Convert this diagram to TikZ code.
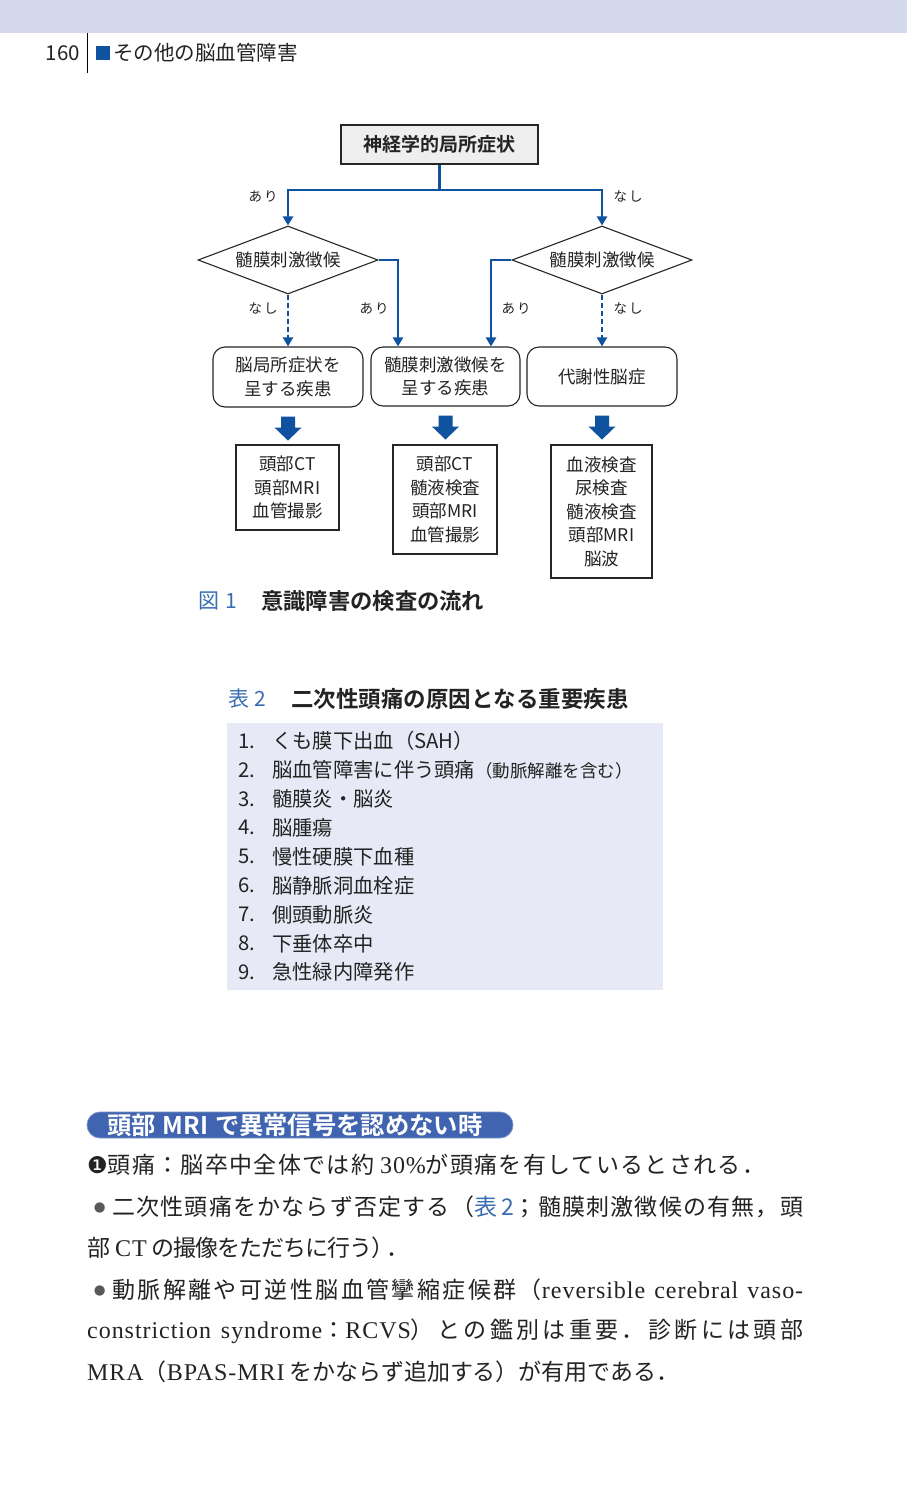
\documentclass[tikz,border=0pt]{standalone}
\usepackage{fontspec}
\setmainfont{Noto Sans CJK JP}[BoldFont={Noto Sans CJK JP Bold}]
\newfontfamily\bodyjp{Noto Sans CJK JP}
\newfontfamily\pilljp{Noto Sans CJK JP Bold}[LetterSpace=3]
\newfontfamily\lat{Liberation Serif}[LetterSpace=4]
\newfontfamily\dv{DejaVu Sans}
\usetikzlibrary{arrows.meta,shapes.geometric,calc}
\definecolor{band}{RGB}{213,217,238}
\definecolor{lnblue}{RGB}{14,82,160}
\definecolor{capblue}{RGB}{58,108,178}
\definecolor{tblbg}{RGB}{231,234,246}
\definecolor{pillc}{RGB}{64,100,175}
\definecolor{boxgray}{RGB}{238,238,238}
\definecolor{txt}{RGB}{35,35,35}
\newXeTeXintercharclass\jpclass
\makeatletter
\def\setjprange#1#2{\count@=#1\relax
  \loop\XeTeXcharclass\count@=\jpclass\relax
  \ifnum\count@<#2\relax\advance\count@ by 1\relax\repeat}
\setjprange{"3001}{"30FF}
\setjprange{"4E00}{"9FFF}
\setjprange{"FF01}{"FFEF}
\makeatother
\XeTeXinterchartoks\jpclass\jpclass={\hskip0pt plus 4pt minus 2pt}
\XeTeXinterchartoks 0 \jpclass={\hskip0pt plus 4pt minus 2pt}
\XeTeXinterchartoks\jpclass 0 ={\hskip0pt plus 4pt minus 2pt}
\XeTeXinterchartokenstate=1
\newcommand\bulmark{\makebox[25pt][c]{\raisebox{4.5pt}{\fontsize{13.5}{13}\selectfont\dv\color{black!65}●}}}
\newcommand\jline[2]{\makebox[#1][s]{#2}}
\newcommand\la[1]{{\lat\fontsize{24}{24}\selectfont #1}}
\begin{document}
\begin{tikzpicture}[x=1pt,y=-1pt,
  fbox/.style={draw=black!85, line width=1.1pt, align=center, inner sep=0pt, text=txt, font=\fontsize{17.5}{23.5}\selectfont},
  rbox/.style={fbox, rounded corners=12pt},
  dia/.style={diamond, draw=black!85, line width=1.1pt, aspect=2.65, minimum width=180pt, minimum height=68pt, inner sep=0pt, text=txt, font=\fontsize{17.5}{18}\selectfont},
  blc/.style={draw=lnblue, line width=2.4pt},
  arr/.style={-{Triangle[width=10pt,length=9pt]}},
  dsh/.style={draw=lnblue, line width=2pt, dash pattern=on 5pt off 3pt},
  lbl/.style={font=\fontsize{13.5}{14}\selectfont, inner sep=0pt, text=txt},
  item/.style={anchor=west, inner sep=0pt, text=txt, font=\fontsize{20.3}{21}\selectfont},
  body/.style={anchor=west, inner sep=0pt, text=txt, font=\bodyjp\fontsize{23}{24}\selectfont},
  blk/.style={fill=lnblue}
]
\useasboundingbox (0,0) rectangle (907,1500);
\fill[white] (0,0) rectangle (907,1500);
% header
\fill[band] (0,0) rectangle (907,33);
\node[anchor=east, inner sep=0pt, font=\fontsize{20.5}{21}\selectfont, text=txt] (pg) at (80,53) {160};
\draw[black, line width=1pt] (87,33) -- (87,73);
\fill[lnblue] (96,46) rectangle (110,60);
\node[anchor=west, inner sep=0pt, font=\fontsize{20.5}{21}\selectfont, text=txt] (ht) at (113,53) {その他の脳血管障害};

% flowchart
\node[fbox, fill=boxgray, minimum width=197pt, minimum height=39pt, font=\fontsize{19}{20}\selectfont\bfseries] (top) at (439.5,144.5) {神経学的局所症状};
\node[dia] (d1) at (288,260) {髄膜刺激徴候};
\node[dia] (d2) at (602,260) {髄膜刺激徴候};
\node[rbox, minimum width=150pt, minimum height=60pt] (b1) at (288,377) {脳局所症状を\\呈する疾患};
\node[rbox, minimum width=149pt, minimum height=59pt] (b2) at (445.5,376.5) {髄膜刺激徴候を\\呈する疾患};
\node[rbox, minimum width=150pt, minimum height=59pt] (b3) at (602,376.5) {代謝性脳症};
\node[fbox, minimum width=103pt, minimum height=85pt] (t1) at (287.5,487.5) {頭部CT\\頭部MRI\\血管撮影};
\node[fbox, minimum width=104pt, minimum height=109pt] (t2) at (445,499.5) {頭部CT\\髄液検査\\頭部MRI\\血管撮影};
\node[fbox, minimum width=101pt, minimum height=133pt] (t3) at (601.5,511.5) {血液検査\\尿検査\\髄液検査\\頭部MRI\\脳波};

\coordinate (j) at (439.5,190);
\draw[blc] (top.south) -- (j);
\draw[blc, arr] (j) -| (d1.north);
\draw[blc, arr] (j) -| (d2.north);
\draw[blc, arr] (d1.east) -| ($(b2.north)+(-47.5,0)$);
\draw[blc, arr] (d2.west) -| ($(b2.north)+(45.5,0)$);
\draw[dsh, arr] (d1.south) -- (b1.north);
\draw[dsh, arr] (d2.south) -- (b3.north);

\node[lbl] (l1) at (263,196) {あ\hspace{2pt}り};
\node[lbl] (l2) at (628,196) {な\hspace{2pt}し};
\node[lbl] (l3) at (263,308) {な\hspace{2pt}し};
\node[lbl] (l4) at (374,308) {あ\hspace{2pt}り};
\node[lbl] (l5) at (516,308) {あ\hspace{2pt}り};
\node[lbl] (l6) at (628,308) {な\hspace{2pt}し};

\foreach \b in {b1,b2,b3}{
  \fill[blk] ($(\b.south)+(-7,9)$) -- ++(14,0) -- ++(0,11) -- ++(6.5,0) -- ++(-13.5,13) -- ++(-13.5,-13) -- ++(6.5,0) -- cycle;
}

% caption
\node[anchor=west, inner sep=0pt, font=\fontsize{21}{22}\selectfont, text=capblue] (c1) at (198,601) {図\hspace{6pt}1};
\node[anchor=west, inner sep=0pt, font=\fontsize{22.3}{23}\selectfont\bfseries, text=txt] (c2) at (261,601) {意識障害の検査の流れ};

% table
\node[anchor=west, inner sep=0pt, font=\fontsize{21}{22}\selectfont, text=capblue] (tt1) at (228,699) {表\hspace{5pt}2};
\node[anchor=west, inner sep=0pt, font=\fontsize{22.5}{23}\selectfont\bfseries, text=txt] (tt2) at (291,699) {二次性頭痛の原因となる重要疾患};
\fill[tblbg] (227,723) rectangle (663,990);
\foreach \n/\t [count=\i from 0] in {1/{くも膜下出血（SAH）},
  2/{脳血管障害に伴う頭痛{\fontsize{17.5}{17}\selectfont （動脈解離を含む）}},
  3/{髄膜炎・脳炎},4/{脳腫瘍},5/{慢性硬膜下血種},6/{脳静脈洞血栓症},
  7/{側頭動脈炎},8/{下垂体卒中},9/{急性緑内障発作}}{
  \node[item] (n\n) at (238,741+28.9*\i) {\n.};
  \node[item] (i\n) at (272,741+28.9*\i) {\t};
}

% section
\node[fill=pillc, draw=pillc!70, line width=0.8pt, rounded corners=13pt, minimum width=426pt, minimum height=26pt, inner sep=0pt] (pill) at (300,1125) {};
\node[anchor=west, inner sep=0pt, text=white, font=\pilljp\fontsize{24.3}{24}\selectfont] (pt) at (107,1125) {頭部 MRI で異常信号を認めない時};

\node[body] (p1) at (87,1165) {\jline{678pt}{{\dv ❶}頭痛：脳卒中全体では約 \la{30\%}が頭痛を有しているとされる．}};
\node[body] (p2) at (87,1207) {\jline{716pt}{\bulmark 二次性頭痛をかならず否定する（{\color{capblue}表\hspace{4pt}2}；髄膜刺激徴候の有無，頭}};
\node[body] (p3) at (87,1248) {\jline{322pt}{部\hspace{5pt}\la{CT}\hspace{5pt}の撮像をただちに行う）\kern-8pt．}};
\node[body] (p4) at (87,1290) {\jline{716pt}{\bulmark 動脈解離や可逆性脳血管攣縮症候群（\la{reversible cerebral vaso-}}};
\node[body] (p5) at (87,1331) {\jline{716pt}{\la{constriction syndrome}：\la{RCVS}）との鑑別は重要．診断には頭部}};
\node[body] (p6) at (87,1372) {\jline{592pt}{\la{MRA}（\la{BPAS-MRI} をかならず追加する）が有用である．}};
\end{tikzpicture}
\end{document}
